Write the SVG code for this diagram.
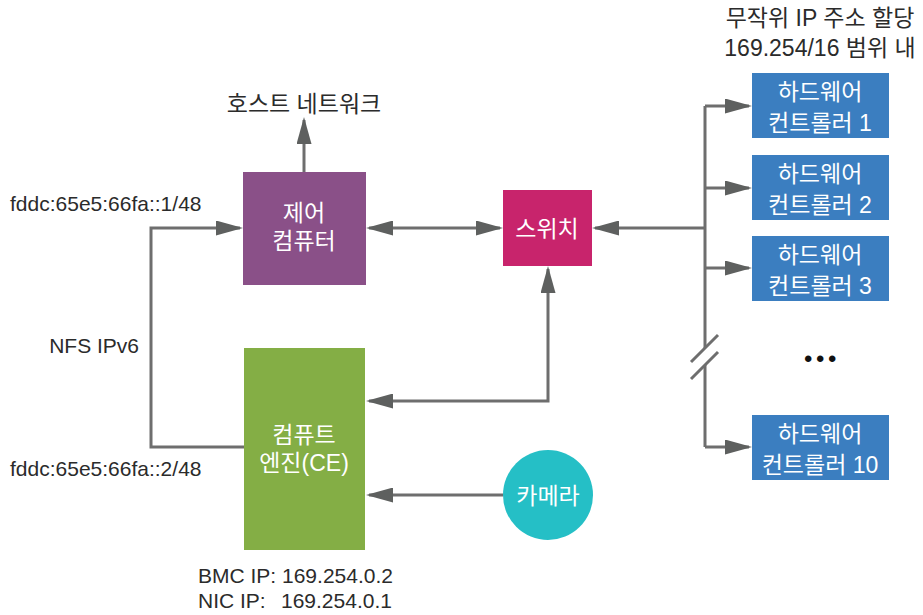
<svg xmlns="http://www.w3.org/2000/svg" width="923" height="615" viewBox="0 0 923 615">
<style>
text { font-family: "Liberation Sans", "Noto Sans CJK KR", sans-serif; }
.lbl { fill: #2b2b2b; font-size: 21px; }
.kr { fill: #2b2b2b; font-size: 23px; }
.box { fill: #ffffff; font-size: 23px; text-anchor: middle; }
.ln { stroke: #6e6e6e; stroke-width: 3; fill: none; }
</style>
<defs>
<marker id="ah" viewBox="0 0 27 15" refX="24" refY="7.5" markerWidth="27" markerHeight="15" markerUnits="userSpaceOnUse" orient="auto-start-reverse">
<path d="M0,0 L27,7.5 L0,15 z" fill="#5e605f"/>
</marker>
</defs>

<g id="connectors">
<line class="ln" x1="304" y1="172" x2="304" y2="120" marker-end="url(#ah)"/>
<line class="ln" x1="369" y1="228" x2="500" y2="228" marker-start="url(#ah)" marker-end="url(#ah)"/>
<path class="ln" d="M244,447 H151 V228 H240" marker-end="url(#ah)"/>
<line class="ln" x1="705" y1="228" x2="595" y2="228" marker-end="url(#ah)"/>
<path class="ln" d="M705,106 V348 M705,365 V447"/>
<path class="ln" d="M705,106 H749" marker-end="url(#ah)"/>
<path class="ln" d="M705,188 H749" marker-end="url(#ah)"/>
<path class="ln" d="M705,268 H749" marker-end="url(#ah)"/>
<path class="ln" d="M705,447 H749" marker-end="url(#ah)"/>
<line class="ln" x1="691" y1="362" x2="718" y2="335"/>
<line class="ln" x1="691" y1="379" x2="718" y2="352"/>
<path class="ln" d="M548,269 V401 H369" marker-start="url(#ah)" marker-end="url(#ah)"/>
<line class="ln" x1="503" y1="495" x2="369" y2="495" marker-end="url(#ah)"/>
</g>

<g id="host-network">
<text class="kr" x="304" y="112" text-anchor="middle">호스트 네트워크</text>
</g>

<g id="control-computer">
<rect x="243" y="172" width="123" height="113" fill="#8a5088"/>
<text class="box" x="304" y="221">제어</text>
<text class="box" x="304" y="249">컴퓨터</text>
</g>

<g id="switch">
<rect x="503" y="190" width="89" height="76" fill="#c8246c"/>
<text class="box" x="547" y="237">스위치</text>
</g>

<g id="compute-engine">
<rect x="244" y="348" width="121" height="202" fill="#84ae45"/>
<text class="box" x="304" y="443">컴퓨트</text>
<text class="box" x="304" y="471">엔진(CE)</text>
</g>

<g id="camera">
<circle cx="548" cy="495" r="45" fill="#25bfc6"/>
<text class="box" x="548" y="504">카메라</text>
</g>

<g id="hw1">
<rect x="752" y="73" width="137" height="65" fill="#3b7ec0"/>
<text class="box" x="820" y="100">하드웨어</text>
<text class="box" x="820" y="131">컨트롤러 1</text>
</g>
<g id="hw2">
<rect x="752" y="155" width="137" height="65" fill="#3b7ec0"/>
<text class="box" x="820" y="182">하드웨어</text>
<text class="box" x="820" y="213">컨트롤러 2</text>
</g>
<g id="hw3">
<rect x="752" y="236" width="137" height="65" fill="#3b7ec0"/>
<text class="box" x="820" y="263">하드웨어</text>
<text class="box" x="820" y="294">컨트롤러 3</text>
</g>
<g id="hw10">
<rect x="752" y="415" width="137" height="65" fill="#3b7ec0"/>
<text class="box" x="820" y="442">하드웨어</text>
<text class="box" x="820" y="473">컨트롤러 10</text>
</g>

<g id="labels">
<text class="kr" x="820" y="26" text-anchor="middle">무작위 IP 주소 할당</text>
<text class="kr" x="820" y="56" text-anchor="middle">169.254/16 범위 내</text>
<text class="lbl" x="10" y="211">fddc:65e5:66fa::1/48</text>
<text class="lbl" x="139" y="353" text-anchor="end">NFS IPv6</text>
<text class="lbl" x="10" y="476">fddc:65e5:66fa::2/48</text>
<text class="lbl" x="198" y="583">BMC IP: 169.254.0.2</text>
<text class="lbl" y="608"><tspan x="198">NIC IP:</tspan><tspan x="281">169.254.0.1</tspan></text>
<text x="822" y="367" font-size="24" letter-spacing="3.6" text-anchor="middle" fill="#111">•••</text>
</g>
</svg>
